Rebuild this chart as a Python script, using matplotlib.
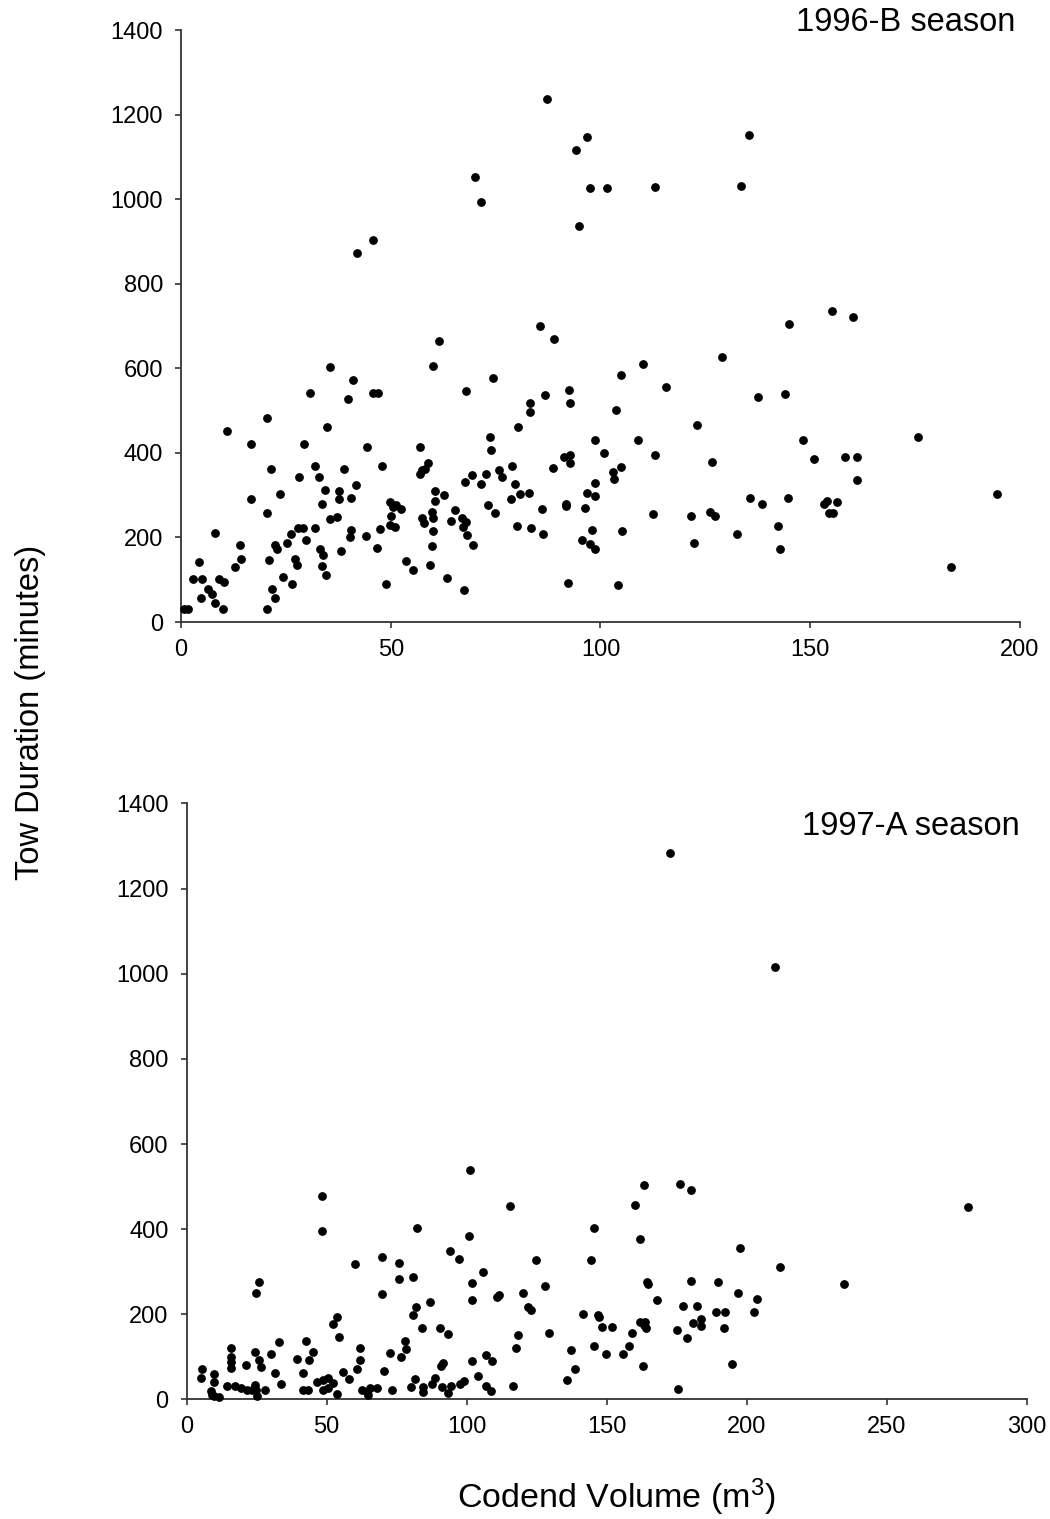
# Tow duration vs codend volume, two seasons

import matplotlib
matplotlib.use('Agg')
import numpy as np
import matplotlib.pyplot as plt


# 1996-B season: codend volume (m3) and tow duration (minutes)
vol_96 = [41.9, 45.7, 70.0, 71.5, 87.3, 94.2, 96.8, 97.5, 101.5, 113.1, 133.6, 135.4, 94.8,
          145.0, 155.3, 160.1, 85.5, 89.0,
          61.5, 60.1, 35.5, 41.0, 30.7, 39.7, 45.8, 47.0, 68.0, 20.4, 34.7, 11.0, 16.6, 29.2,
          44.4, 56.9, 21.4, 31.9, 32.9, 28.1, 38.9, 48.0, 57.5, 58.1, 58.9, 56.9, 41.6, 34.4,
          37.7, 37.7, 40.6, 23.6, 16.6, 33.7, 67.7, 60.5, 62.7, 60.5, 49.8, 51.3, 52.5, 50.6,
          59.8, 60.1, 57.5, 57.9, 65.3, 64.4, 67.1, 68.0, 67.3, 68.1, 50.1, 49.8, 51.0, 20.6,
          35.5, 37.3, 32.0, 27.9, 29.1, 26.2, 25.2, 22.4, 22.8, 29.8, 40.6, 40.2, 44.2, 47.4,
          46.8, 38.2, 33.1, 33.9, 33.6, 34.5, 27.1, 27.7, 24.4, 26.5, 21.0, 21.6, 22.5, 20.6,
          14.1, 14.4, 12.9, 8.1, 4.2, 2.9, 4.9, 4.7, 6.5, 7.5, 8.0, 9.1, 10.2, 9.9, 0.6, 1.7,
          53.7, 55.2, 59.4, 59.8, 60.0, 48.8, 63.5, 67.4,
          110.2, 104.8, 115.7, 74.4, 86.7, 92.6, 92.8, 83.3, 83.2, 103.6, 122.9, 80.4, 109.0,
          98.6, 73.6, 74.0, 100.9, 112.9, 126.6, 91.4, 92.8, 92.8, 88.6, 79.0, 75.8, 76.6,
          72.7, 69.4, 71.6, 79.5, 104.9, 103.1, 103.2, 98.7, 96.8, 98.7, 82.9, 80.9, 78.7,
          73.3, 74.8, 86.1, 91.7, 91.7, 96.3, 69.6, 80.1, 83.5, 86.4, 98.0, 95.5, 97.6, 98.6,
          105.2, 112.5, 121.5, 122.4, 126.0, 127.2, 132.5, 92.3, 104.1, 129.0,
          137.5, 144.0, 148.2, 175.6, 151.0, 158.3, 161.1, 161.1, 194.5, 135.6, 138.5, 144.7,
          153.3, 154.1, 156.3, 154.5, 155.5, 142.3, 142.9, 183.6]
dur_96 = [873, 903, 1053, 994, 1237, 1117, 1147, 1027, 1027, 1028, 1031, 1151, 937,
          704, 735, 721, 700, 669,
          665, 605, 604, 572, 542, 528, 542, 542, 546, 482, 462, 452, 422, 422,
          414, 414, 362, 368, 343, 342, 363, 370, 359, 363, 377, 350, 324, 313,
          310, 292, 294, 302, 291, 279, 331, 310, 300, 286, 284, 276, 267, 272,
          261, 245, 245, 235, 264, 240, 246, 237, 225, 205, 250, 229, 225, 258,
          243, 248, 223, 222, 222, 209, 187, 183, 172, 193, 217, 200, 203, 219,
          174, 169, 172, 158, 132, 112, 148, 136, 107, 91, 146, 77, 56, 31,
          181, 150, 130, 211, 141, 101, 101, 56, 77, 66, 45, 101, 95, 30, 31, 31,
          145, 124, 136, 179, 215, 89, 105, 76,
          610, 585, 556, 576, 538, 549, 519, 519, 497, 501, 467, 462, 431,
          431, 437, 407, 400, 396, 378, 391, 395, 377, 364, 368, 359, 342,
          351, 347, 327, 327, 366, 355, 339, 329, 304, 298, 306, 302, 292,
          277, 257, 268, 278, 274, 269, 181, 227, 223, 208, 218, 193, 185, 173,
          215, 256, 251, 186, 261, 251, 208, 92, 88, 627,
          533, 539, 430, 437, 385, 390, 390, 335, 303, 293, 278, 293,
          280, 286, 284, 259, 259, 228, 172, 130]

# 1997-A season
vol_97 = [172.6, 210.1, 279.1,
          197.7, 211.8, 234.8, 189.9, 196.8, 203.6, 202.6, 189.0, 192.3, 191.9, 194.8,
          101.1, 115.4, 100.8, 93.9, 97.1, 105.9, 102.0, 101.9, 124.8, 120.0, 128.0, 110.7,
          111.7, 122.0, 122.8, 118.4, 117.6, 129.5, 116.6, 106.8, 109.0, 101.8, 104.0, 106.8,
          108.6, 97.6, 99.1, 90.5, 93.4, 90.7, 91.7, 91.1, 94.3, 93.4, 145.5, 144.5, 141.6,
          146.8, 147.2, 148.3, 151.9, 145.6, 149.8, 137.4, 138.7, 135.7, 155.9, 158.1, 159.1,
          161.9, 163.7, 164.0, 163.3, 163.1, 160.2, 163.3, 162.0, 164.5, 164.8, 167.9, 176.2,
          180.1, 180.1, 177.1, 182.4, 180.7, 183.7, 183.7, 175.2, 178.7, 175.5,
          48.4, 48.3, 82.4, 25.9, 24.8, 60.2, 69.6, 69.6, 75.9, 75.9, 80.7, 86.9, 81.9, 80.7,
          84.1, 53.6, 52.1, 54.5, 33.1, 42.6, 45.0, 43.8, 39.3, 41.4, 30.1, 31.4, 33.6, 24.3,
          25.7, 26.5, 15.8, 15.8, 15.8, 15.8, 21.3, 5.4, 5.0, 9.8, 9.9, 8.6, 8.9, 9.7, 11.6,
          14.3, 17.3, 19.3, 21.4, 23.2, 24.4, 24.8, 25.2, 28.0, 41.4, 43.4, 46.4, 48.8, 50.6,
          48.6, 50.6, 52.3, 53.6, 55.9, 58.1, 60.7, 62.0, 62.0, 62.5, 64.3, 65.5, 67.9, 64.9,
          70.5, 72.6, 73.2, 76.5, 78.1, 78.3, 80.1, 81.7, 84.5, 84.5, 87.5, 88.8]
dur_97 = [1283, 1015, 451,
          355, 310, 271, 275, 250, 235, 205, 205, 205, 169, 84,
          539, 455, 385, 349, 330, 300, 274, 234, 327, 251, 266, 240,
          245, 216, 209, 151, 120, 156, 32, 104, 90, 90, 55, 32,
          21, 36, 44, 169, 153, 79, 85, 29, 32, 15, 402, 327, 201,
          198, 193, 171, 171, 126, 107, 116, 72, 46, 107, 126, 157,
          183, 183, 169, 176, 78, 457, 503, 378, 277, 272, 234, 507,
          493, 278, 219, 219, 179, 190, 173, 163, 144, 25,
          396, 478, 403, 277, 251, 318, 334, 248, 320, 283, 287, 230, 218, 198,
          169, 193, 178, 147, 136, 137, 112, 92, 96, 61, 107, 61, 37, 111,
          93, 77, 121, 100, 89, 73, 82, 71, 50, 60, 41, 21, 11, 7, 5,
          32, 32, 26, 22, 22, 33, 22, 7, 22, 22, 22, 42, 46, 51,
          22, 26, 38, 13, 65, 48, 72, 122, 93, 22, 18, 26, 28, 11,
          68, 108, 23, 99, 138, 119, 29, 49, 29, 18, 36, 50]

y_ticks = [0, 200, 400, 600, 800, 1000, 1200, 1400]
x_ticks_96 = [0, 50, 100, 150, 200]
x_ticks_97 = [0, 50, 100, 150, 200, 250, 300]


def style_axes(ax, xmax, xticks):
    ax.set_xlim(0, xmax)
    ax.set_ylim(0, 1400)
    ax.set_xticks(xticks)
    ax.set_yticks(y_ticks)
    ax.spines['top'].set_visible(False)
    ax.spines['right'].set_visible(False)
    ax.spines['left'].set_linewidth(1.3)
    ax.spines['bottom'].set_linewidth(1.3)
    ax.spines['left'].set_color('#333333')
    ax.spines['bottom'].set_color('#333333')
    ax.tick_params(axis='both', direction='out', length=4, width=1.2,
                   labelsize=17, pad=8, color='#333333')
    ax.tick_params(axis='y', pad=9)


if __name__ == '__main__':
    plt.rcParams['font.family'] = ['Liberation Sans', 'DejaVu Sans']
    plt.rcParams['mathtext.fontset'] = 'custom'
    plt.rcParams['mathtext.rm'] = 'Liberation Sans'
    plt.rcParams['mathtext.it'] = 'Liberation Sans'

    fig = plt.figure(figsize=(10.5, 15.19), dpi=100)

    ax1 = fig.add_axes([0.1724, 0.5905, 0.7990, 0.3897])
    ax1.scatter(vol_96, dur_96, s=28, color='black', zorder=3, clip_on=False)
    style_axes(ax1, 200, x_ticks_96)
    ax1.text(0.994, 1.013, '1996-B season', transform=ax1.transAxes,
             ha='right', va='center', fontsize=23.5)

    ax2 = fig.add_axes([0.1778, 0.0787, 0.8000, 0.3924])
    ax2.scatter(vol_97, dur_97, s=28, color='black', zorder=3, clip_on=False)
    style_axes(ax2, 300, x_ticks_97)
    ax2.text(0.992, 0.961, '1997-A season', transform=ax2.transAxes,
             ha='right', va='center', fontsize=23.5)

    fig.text(0.029, 0.531, 'Tow Duration (minutes)', rotation=90,
             ha='center', va='center', fontsize=23.5)
    fig.text(0.587, 0.0145, 'Codend Volume (m$^3$)',
             ha='center', va='center', fontsize=24.5)

    fig.savefig('out.png', dpi=100)
